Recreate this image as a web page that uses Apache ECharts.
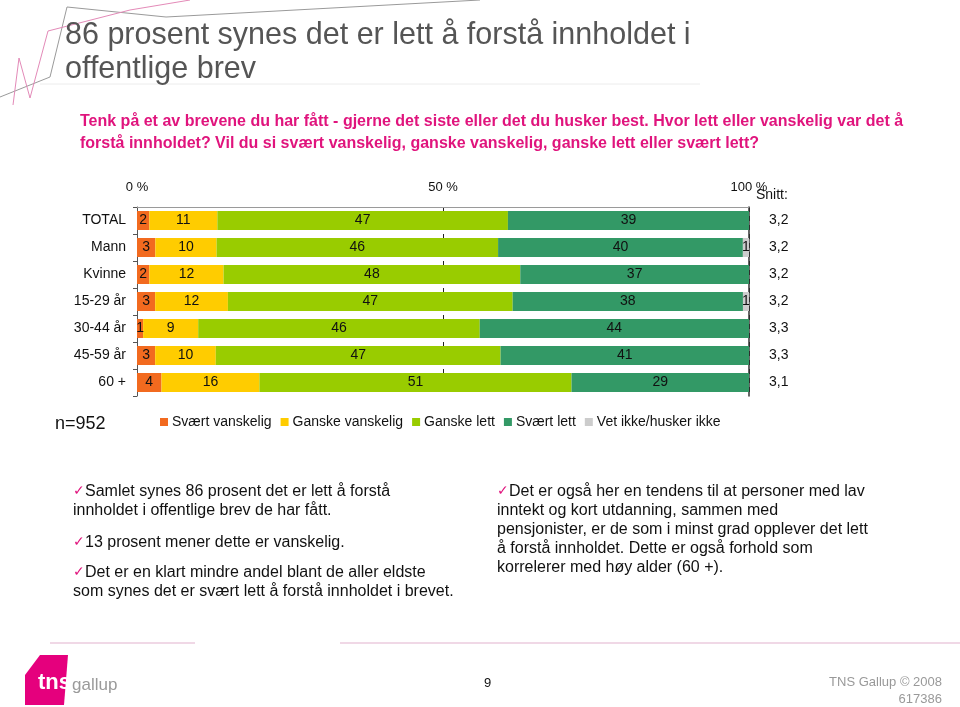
<!DOCTYPE html>
<html>
<head>
<meta charset="utf-8">
<script src="https://cdn.jsdelivr.net/npm/echarts@6/dist/echarts.min.js"></script>
<style>
html,body{margin:0;padding:0;background:#fff;}
#chart{width:960px;height:707px;}
</style>
</head>
<body>
<div id="chart"></div>
<script>
const categories = ['TOTAL', 'Mann', 'Kvinne', '15-29 år', '30-44 år', '45-59 år', '60 +'];
const seriesNames = ['Svært vanskelig', 'Ganske vanskelig', 'Ganske lett', 'Svært lett', 'Vet ikke/husker ikke'];
const svaertVanskelig = [2, 3, 2, 3, 1, 3, 4];
const ganskeVanskelig = [11, 10, 12, 12, 9, 10, 16];
const ganskeLett = [47, 46, 48, 47, 46, 47, 51];
const svaertLett = [39, 40, 37, 38, 44, 41, 29];
const vetIkke = [0, 1, 0, 1, 0, 0, 0];
const snitt = ['3,2', '3,2', '3,2', '3,2', '3,3', '3,3', '3,1'];
const xTickLabels = ['0 %', '50 %', '100 %'];
const colors = ['#F26A1F', '#FFCC00', '#99CC00', '#339966', '#CCCCCC'];

const allSeries = [svaertVanskelig, ganskeVanskelig, ganskeLett, svaertLett, vetIkke];
const rowSums = categories.map((c, i) => allSeries.reduce((s, arr) => s + arr[i], 0));

const chart = echarts.init(document.getElementById('chart'), null, {renderer: 'canvas'});

const FONT = 'Liberation Sans, Arial, sans-serif';

const series = allSeries.map((arr, si) => ({
  name: seriesNames[si],
  type: 'bar',
  stack: 'total',
  barWidth: 19,
  itemStyle: {color: colors[si]},
  label: {
    show: true,
    position: 'inside',
    color: '#111',
    fontSize: 14,
    fontFamily: FONT,
    formatter: p => p.data.raw > 0 ? String(p.data.raw) : ''
  },
  data: arr.map((v, i) => ({value: v / rowSums[i] * 100, raw: v}))
}));

const option = {
  backgroundColor: '#fff',
  animation: false,
  textStyle: {fontFamily: FONT},
  grid: {left: 137, right: 211, top: 207, height: 189, containLabel: false},
  legend: {
    data: seriesNames,
    left: 155,
    top: 410,
    icon: 'rect',
    itemWidth: 8,
    itemHeight: 8,
    itemGap: 9,
    textStyle: {fontSize: 14, color: '#111', fontFamily: FONT, padding: [0, 0, 0, -1]}
  },
  xAxis: {
    type: 'value',
    position: 'top',
    min: 0,
    max: 100,
    interval: 50,
    axisLine: {show: true, lineStyle: {color: '#9a9a9a', width: 1}},
    axisTick: {show: false},
    axisLabel: {
      margin: 13,
      fontSize: 13,
      color: '#111',
      fontFamily: FONT,
      formatter: v => xTickLabels[Math.round(v / 50)]
    },
    splitLine: {show: true, lineStyle: {color: '#222', type: [5, 4], width: 1}}
  },
  yAxis: [
    {
      type: 'category',
      data: categories,
      inverse: true,
      axisLine: {show: true, lineStyle: {color: '#555', width: 1}},
      axisTick: {show: true, length: 4, lineStyle: {color: '#555'}},
      axisLabel: {margin: 11, fontSize: 14, color: '#111', fontFamily: FONT}
    },
    {
      type: 'category',
      data: snitt,
      inverse: true,
      position: 'right',
      axisLine: {show: true, lineStyle: {color: '#333', width: 1.5}},
      axisTick: {show: false},
      axisLabel: {margin: 20, fontSize: 14, color: '#111', fontFamily: FONT}
    }
  ],
  series: series,
  graphic: [
    // decorative background lines top-left
    {type: 'polyline', silent: true, shape: {points: [[0, 97], [50, 77], [67, 7], [166, 17], [480, 0]]}, style: {stroke: '#9a9a9a', lineWidth: 1, fill: null}},
    {type: 'polyline', silent: true, shape: {points: [[13, 105], [19, 58], [30, 98], [48, 31], [130, 10], [190, 0]]}, style: {stroke: '#e38ab8', lineWidth: 1, fill: null}},
    {type: 'line', silent: true, shape: {x1: 40, y1: 84, x2: 700, y2: 84}, style: {stroke: '#ececec', lineWidth: 1}},
    // title
    {type: 'text', left: 65, top: 19, style: {text: '86 prosent synes det er lett å forstå innholdet i\noffentlige brev', font: '30.5px ' + FONT, fill: '#555555', lineHeight: 34}},
    // question
    {type: 'text', left: 80, top: 111, style: {text: 'Tenk på et av brevene du har fått - gjerne det siste eller det du husker best. Hvor lett eller vanskelig var det å\nforstå innholdet? Vil du si svært vanskelig, ganske vanskelig, ganske lett eller svært lett?', font: 'bold 16px ' + FONT, fill: '#E0147D', lineHeight: 22}},
    // Snitt header
    {type: 'text', left: 756, top: 188, style: {text: 'Snitt:', font: '14px ' + FONT, fill: '#111'}},
    // n
    {type: 'text', left: 55, top: 415, style: {text: 'n=952', font: '18px ' + FONT, fill: '#111'}},
    // left text block
    {type: 'text', left: 73, top: 482, style: {
      text: '{ck|✓}Samlet synes 86 prosent det er lett å forstå\ninnholdet i offentlige brev de har fått.',
      font: '16px ' + FONT, fill: '#111', lineHeight: 19,
      rich: {ck: {fill: '#E0147D', font: '14px ' + FONT}}}},
    {type: 'text', left: 73, top: 533, style: {
      text: '{ck|✓}13 prosent mener dette er vanskelig.',
      font: '16px ' + FONT, fill: '#111', lineHeight: 19,
      rich: {ck: {fill: '#E0147D', font: '14px ' + FONT}}}},
    {type: 'text', left: 73, top: 563, style: {
      text: '{ck|✓}Det er en klart mindre andel blant de aller eldste\nsom synes det er svært lett å forstå innholdet i brevet.',
      font: '16px ' + FONT, fill: '#111', lineHeight: 19,
      rich: {ck: {fill: '#E0147D', font: '14px ' + FONT}}}},
    // right text block
    {type: 'text', left: 497, top: 482, style: {
      text: '{ck|✓}Det er også her en tendens til at personer med lav\ninntekt og kort utdanning, sammen med\npensjonister, er de som i minst grad opplever det lett\nå forstå innholdet. Dette er også forhold som\nkorrelerer med høy alder (60 +).',
      font: '16px ' + FONT, fill: '#111', lineHeight: 19,
      rich: {ck: {fill: '#E0147D', font: '14px ' + FONT}}}},
    // footer lines
    {type: 'line', silent: true, shape: {x1: 50, y1: 643, x2: 195, y2: 643}, style: {stroke: '#f0d8e6', lineWidth: 2}},
    {type: 'line', silent: true, shape: {x1: 340, y1: 643, x2: 960, y2: 643}, style: {stroke: '#f0d8e6', lineWidth: 2}},
    // logo
    {type: 'polygon', silent: true, shape: {points: [[40, 655], [68, 655], [64, 705], [25, 705], [25, 675]]}, style: {fill: '#E5007D'}},
    {type: 'text', left: 38, top: 672, style: {text: 'tns', font: 'bold 22px ' + FONT, fill: '#ffffff'}},
    {type: 'text', left: 72, top: 677, style: {text: 'gallup', font: '17px ' + FONT, fill: '#9a9a9a'}},
    // page number
    {type: 'text', left: 484, top: 677, style: {text: '9', font: '13px ' + FONT, fill: '#111'}},
    {type: 'text', right: 18, top: 676, style: {text: 'TNS Gallup © 2008', font: '13px ' + FONT, fill: '#999', align: 'right'}},
    {type: 'text', right: 18, top: 693, style: {text: '617386', font: '13px ' + FONT, fill: '#999', align: 'right'}}
  ]
};

chart.setOption(option);
</script>
</body>
</html>
